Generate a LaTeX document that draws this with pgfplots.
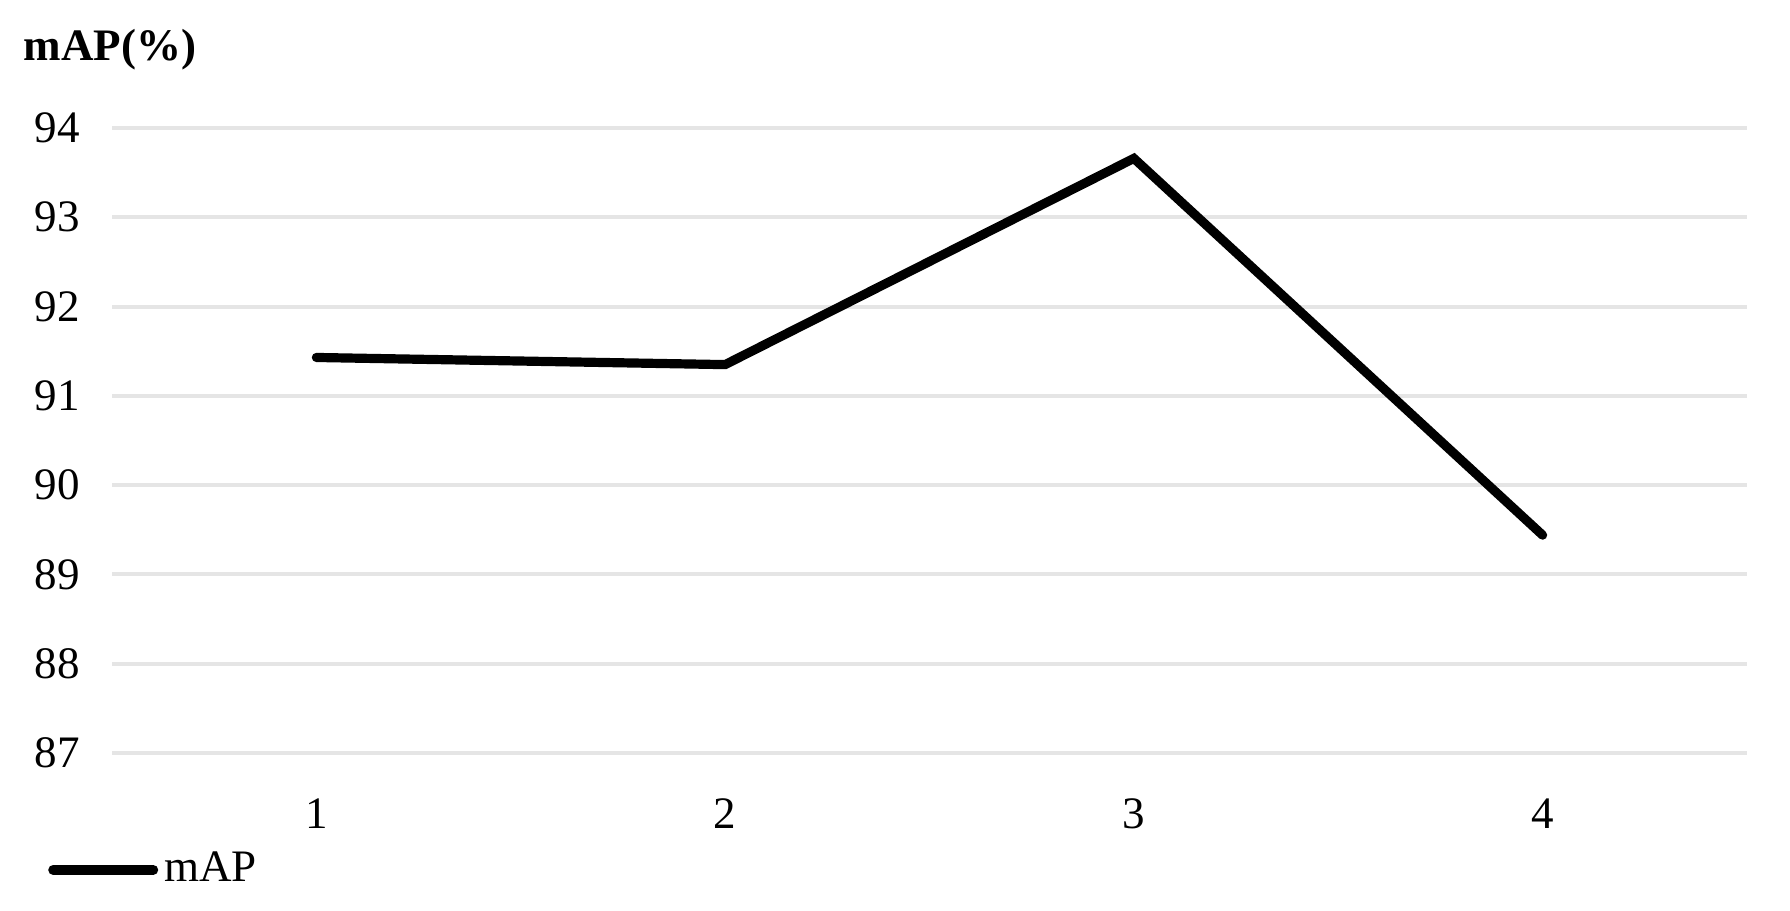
\documentclass[border=0pt]{standalone}
\usepackage{fontspec}
\setmainfont{Liberation Serif}
\usepackage{pgfplots}
\pgfplotsset{compat=1.18}

\begin{document}
\begin{tikzpicture}
\path[use as bounding box] (0,0) rectangle (447.5bp,227.75bp);
\begin{axis}[
  at={(28bp,39.5bp)}, anchor=south west,
  scale only axis,
  width=408.75bp, height=156.25bp,
  xmin=0.5, xmax=4.5,
  ymin=87, ymax=94,
  xtick={1,2,3,4},
  ytick={87,88,...,94},
  ymajorgrids,
  grid style={line width=1bp, draw=gray!20},
  axis line style={draw=none},
  major tick length=0pt,
  tick label style={font=\fontsize{11.3}{13}\selectfont, /pgf/number format/assume math mode=true},
  yticklabel style={xshift=-4.5bp},
  xticklabel style={yshift=-8bp},
  ylabel={\textbf{mAP(\%)}},
  ylabel style={font=\fontsize{11.3}{13}\selectfont, rotate=-90, at={(axis description cs:-0.0544,1.1248)}, anchor=west, inner sep=0pt},
  legend style={at={(axis description cs:-0.039,-0.187)}, anchor=west, draw=none, fill=none,
    inner sep=0pt, outer sep=0pt, font=\fontsize{11.3}{13}\selectfont,
    nodes={inner sep=1.5bp}},
  legend image code/.code={\draw[line width=2.5bp, line cap=round] (0bp,0bp) -- (25bp,0bp);},
]
\addplot[black, line width=2.3bp, line cap=round] coordinates {
  (1,91.43) (2,91.35) (3,93.66) (4,89.44)
};
\addlegendentry{mAP}
\end{axis}
\end{tikzpicture}
\end{document}
